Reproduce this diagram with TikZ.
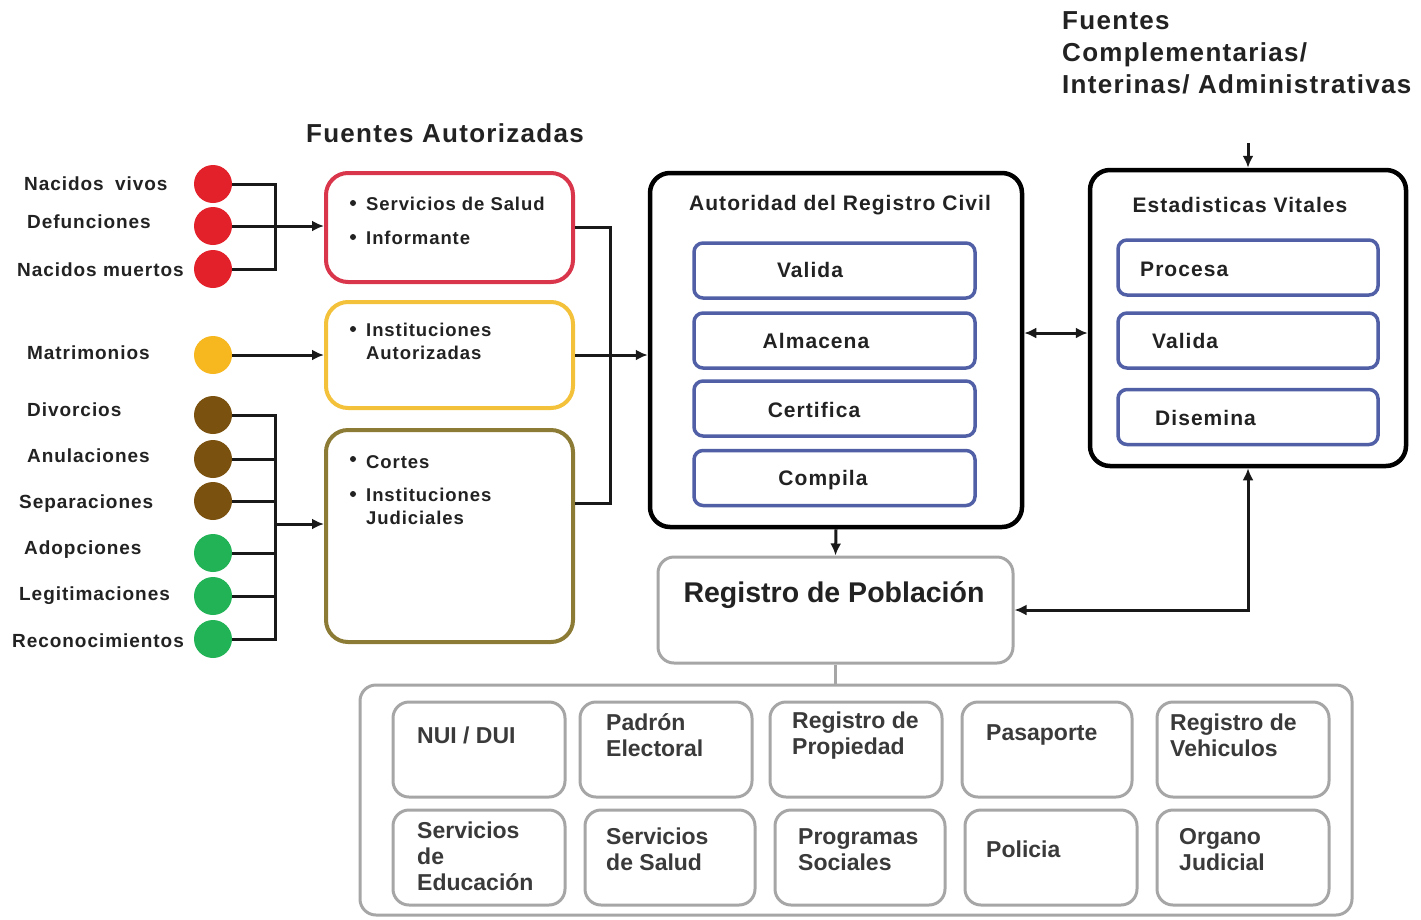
\documentclass[tikz,border=0pt]{standalone}
\usepackage{fontspec}
\setmainfont{Liberation Sans}
\newfontfamily\spaced[LetterSpace=5]{Liberation Sans}
\usetikzlibrary{arrows.meta}
\definecolor{redc}{HTML}{E3212B}
\definecolor{redb}{HTML}{D9364B}
\definecolor{yelc}{HTML}{F7B71E}
\definecolor{yelb}{HTML}{F3C13A}
\definecolor{brnc}{HTML}{7B5110}
\definecolor{oliveb}{HTML}{8C7B35}
\definecolor{grnc}{HTML}{21B355}
\definecolor{blueb}{HTML}{5160A6}
\definecolor{grayb}{HTML}{A6A6A6}
\definecolor{txt}{HTML}{222222}
\definecolor{txtg}{HTML}{3A3A3A}
\begin{document}
\begin{tikzpicture}[x=1pt,y=-1pt,
  dot/.style={circle, minimum size=38pt, inner sep=0pt},
  srcbox/.style={line width=4pt, rounded corners=22pt, minimum width=247pt, fill=white},
  bigbox/.style={draw=black, line width=4.5pt, rounded corners=20pt, fill=white},
  inbox/.style={draw=blueb, line width=3.5pt, rounded corners=9pt, fill=white, minimum height=55pt},
  graybox/.style={draw=grayb, line width=3pt, rounded corners=16pt, fill=white},
  lab/.style={font={\spaced\bfseries\fontsize{19}{22}\selectfont}, text=txt, inner sep=0pt, anchor=west},
  boxt/.style={font={\spaced\bfseries\fontsize{18.5}{23}\selectfont}, text=txt, inner sep=0pt, anchor=west, align=left},
  bul/.style={circle, fill=txt, minimum size=6pt, inner sep=0pt},
  head/.style={font={\spaced\bfseries\fontsize{21}{25}\selectfont}, text=txt, inner sep=0pt},
  title/.style={font={\spaced\bfseries\fontsize{26}{32}\selectfont}, text=txt, inner sep=0pt},
  btxt/.style={font={\bfseries\fontsize{23}{26}\selectfont}, text=txtg, inner sep=0pt, anchor=west, align=left},
  conn/.style={line width=3pt, draw=black!90},
  arr/.style={conn, -{Latex[length=12pt,width=11pt]}},
  darr/.style={conn, {Latex[length=12pt,width=11pt]}-{Latex[length=12pt,width=11pt]}},
]
\useasboundingbox[fill=white] (0,0) rectangle (1421,919);

% ---- titles
\node[title] (tfa) at (445,133) {Fuentes Autorizadas};
\node[title, anchor=north west, align=left] (tfc) at (1062,11) {Fuentes\\Complementarias/\\Interinas/ Administrativas};

% ---- left labels
\node[lab] (l1) at (24,184) {Nacidos\hspace{5pt} vivos};
\node[lab] (l2) at (27,222) {Defunciones};
\node[lab] (l3) at (17,270) {Nacidos muertos};
\node[lab] (l4) at (27,353) {Matrimonios};
\node[lab] (l5) at (27,410) {Divorcios};
\node[lab] (l6) at (27,456) {Anulaciones};
\node[lab] (l7) at (19,504) {Separaciones};
\node[lab] (l8) at (24,550) {Adopciones};
\node[lab] (l9) at (19,596) {Legitimaciones};
\node[lab] (l10) at (12,641) {Reconocimientos};

% ---- circles
\node[dot, fill=redc] (c1) at (213,184) {};
\node[dot, fill=redc] (c2) at (213,226) {};
\node[dot, fill=redc] (c3) at (213,269) {};
\node[dot, fill=yelc] (cy) at (213,355) {};
\node[dot, fill=brnc] (d1) at (213,415) {};
\node[dot, fill=brnc] (d2) at (213,459) {};
\node[dot, fill=brnc] (d3) at (213,501) {};
\node[dot, fill=grnc] (g1) at (213,553) {};
\node[dot, fill=grnc] (g2) at (213,596) {};
\node[dot, fill=grnc] (g3) at (213,639) {};

% ---- source boxes
\node[srcbox, draw=redb, minimum height=109pt] (red) at (449.5,227.5) {};
\node[srcbox, draw=yelb, minimum height=106pt] (yel) at (449.5,355) {};
\node[srcbox, draw=oliveb, minimum height=212pt] (oli) at (449.5,536) {};

\node[bul] (r1b) at (353,203) {};
\node[boxt] (r1) at (366,204) {Servicios de Salud};
\node[bul] (r2b) at (353,237) {};
\node[boxt] (r2) at (366,238) {Informante};
\node[bul] (y1b) at (353,329) {};
\node[boxt] (y1) at (366,341.5) {Instituciones\\Autorizadas};
\node[bul] (o1b) at (353,459) {};
\node[boxt] (o1) at (366,462) {Cortes};
\node[bul] (o2b) at (353,494) {};
\node[boxt] (o2) at (366,506.5) {Instituciones\\Judiciales};

% ---- Autoridad del Registro Civil
\node[bigbox, minimum width=372pt, minimum height=354pt] (arc) at (836,350) {};
\node[head] (arct) at (840,205) {Autoridad del Registro Civil};
\node[inbox, minimum width=281pt] (v1) at (834.5,270.5) {};
\node[inbox, minimum width=281pt] (v2) at (834.5,340.5) {};
\node[inbox, minimum width=281pt] (v3) at (834.5,408.5) {};
\node[inbox, minimum width=281pt] (v4) at (834.5,478) {};
\node[head] (v1t) at (810,270) {Valida};
\node[head] (v2t) at (816,341) {Almacena};
\node[head] (v3t) at (814,410) {Certifica};
\node[head] (v4t) at (823,480) {Compila};

% ---- Estadisticas Vitales
\node[bigbox, minimum width=316pt, minimum height=296pt] (ev) at (1248,318) {};
\node[head] (evt) at (1240,205) {Estadisticas Vitales};
\node[inbox, minimum width=260pt] (e1) at (1248,267.5) {};
\node[inbox, minimum width=260pt] (e2) at (1248,340.5) {};
\node[inbox, minimum width=260pt] (e3) at (1248,417) {};
\node[head, anchor=west] (e1t) at (1140,269) {Procesa};
\node[head, anchor=west] (e2t) at (1152,341) {Valida};
\node[head, anchor=west] (e3t) at (1155,418) {Disemina};

% ---- Registro de Poblacion
\node[graybox, minimum width=355pt, minimum height=106pt] (rp) at (835.5,610) {};
\node[font={\bfseries\fontsize{28.5}{32}\selectfont}, text=txt, inner sep=0pt] (rpt) at (834,595) {Registro de Población};

% ---- bottom group
\node[graybox, minimum width=992pt, minimum height=230pt] (big) at (856,800) {};
\node[graybox, minimum width=172pt, minimum height=95pt] (b11) at (479,749.5) {};
\node[graybox, minimum width=172pt, minimum height=95pt] (b12) at (666,749.5) {};
\node[graybox, minimum width=172pt, minimum height=95pt] (b13) at (856,749.5) {};
\node[graybox, minimum width=170pt, minimum height=95pt] (b14) at (1047,749.5) {};
\node[graybox, minimum width=172pt, minimum height=95pt] (b15) at (1243,749.5) {};
\node[graybox, minimum width=172pt, minimum height=95pt] (b21) at (479,857.5) {};
\node[graybox, minimum width=170pt, minimum height=95pt] (b22) at (670,857.5) {};
\node[graybox, minimum width=170pt, minimum height=95pt] (b23) at (860,857.5) {};
\node[graybox, minimum width=172pt, minimum height=95pt] (b24) at (1051,857.5) {};
\node[graybox, minimum width=172pt, minimum height=95pt] (b25) at (1243,857.5) {};

\node[btxt] (t11) at (417,735) {NUI / DUI};
\node[btxt] (t12) at (606,735) {Padrón\\Electoral};
\node[btxt] (t13) at (792,736) {Registro de\\Propiedad};
\node[btxt] (t14) at (986,735) {Pasaporte};
\node[btxt] (t15) at (1170,735) {Registro de\\Vehiculos};
\node[btxt] (t21) at (417,856) {Servicios\\de\\Educación};
\node[btxt] (t22) at (606,849.5) {Servicios\\de Salud};
\node[btxt] (t23) at (798,849.5) {Programas\\Sociales};
\node[btxt] (t24) at (986,849) {Policia};
\node[btxt] (t25) at (1179,849.5) {Organo\\Judicial};

% ---- connectors: left brackets
\coordinate (j1) at (275,226);
\coordinate (j2) at (275,524);
\draw[conn] (c1.east) -- (c1.east -| j1) -- (c3.east -| j1) -- (c3.east);
\draw[conn] (c2.east) -- (j1);
\draw[arr] (j1) -- (j1 -| red.west);
\draw[arr] (cy.east) -- (cy.east -| yel.west);
\draw[conn] (d1.east) -- (d1.east -| j2) -- (g3.east -| j2) -- (g3.east);
\foreach \n in {d2,d3,g1,g2} \draw[conn] (\n.east) -- (\n.east -| j2);
\draw[arr] (j2) -- (j2 -| oli.west);

% ---- source boxes to ARC
\coordinate (m) at (610,355);
\draw[conn] (red.east) -| (m);
\draw[conn] ([yshift=33pt]oli.east) -| (m);
\draw[arr] (yel.east) -- (yel.east -| arc.west);

% ---- ARC <-> EV
\draw[darr] ([yshift=17pt]arc.east) -- ([yshift=17pt]arc.east -| ev.west);
\coordinate (fc) at (1248,143);
\draw[arr] (fc) -- (ev.north);

% ---- to Registro de Poblacion
\draw[arr] (arc.south) -- (rp.north);
\draw[darr] (ev.south) |- (rp.east);
\draw[line width=3pt, draw=grayb] (rp.south) -- (rp.south |- big.north);
\end{tikzpicture}
\end{document}
